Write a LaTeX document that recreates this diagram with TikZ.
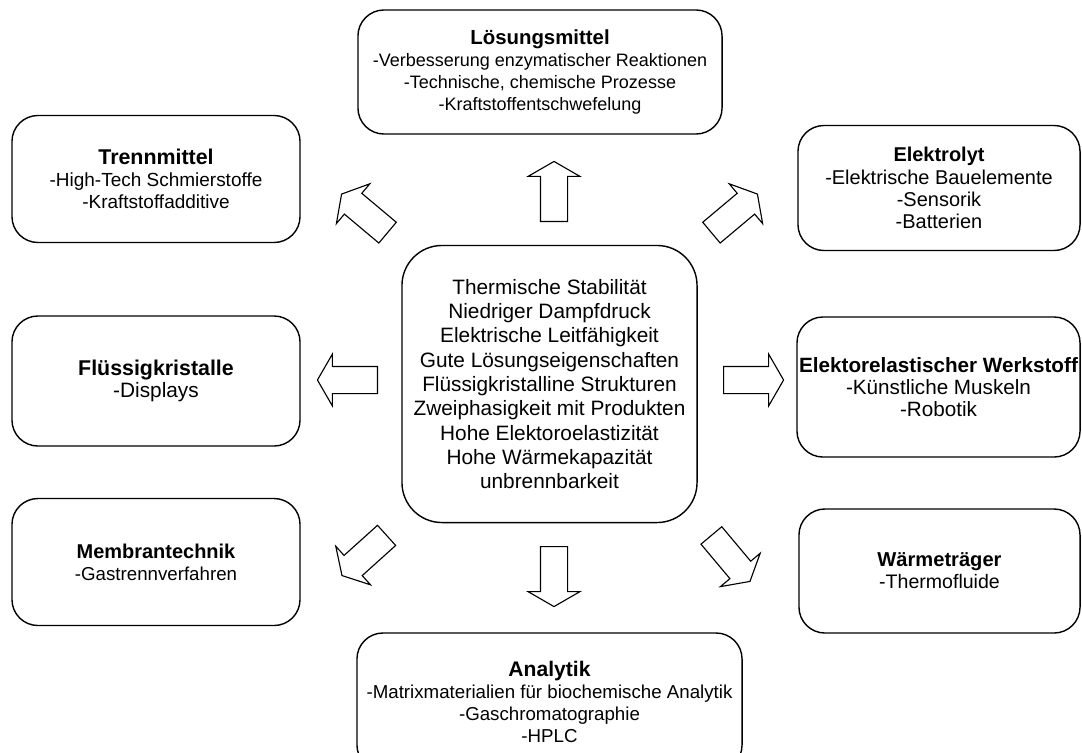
\documentclass[tikz,border=0pt]{standalone}
\usepackage{fontspec}
\setmainfont{Liberation Sans}
\usetikzlibrary{shapes.arrows}
\newcommand{\ttl}[1]{{\fontsize{\titlesize}{15.8}\selectfont\bfseries #1}}
\newcommand{\lProperties}{Thermische Stabilität\\ Niedriger Dampfdruck\\ Elektrische Leitfähigkeit\\ Gute Lösungseigenschaften\\ Flüssigkristalline Strukturen\\ Zweiphasigkeit mit Produkten\\ Hohe Elektoroelastizität\\ Hohe Wärmekapazität\\ unbrennbarkeit}
\newcommand{\lSolvent}{\ttl{Lösungsmittel}\\ -Verbesserung enzymatischer Reaktionen\\ -Technische, chemische Prozesse\\ -Kraftstoffentschwefelung}
\newcommand{\lSeparator}{\ttl{Trennmittel}\\ -High-Tech Schmierstoffe\\ -Kraftstoffadditive}
\newcommand{\lCrystal}{\ttl{Flüssigkristalle}\\ -Displays}
\newcommand{\lMembrane}{\ttl{Membrantechnik}\\ -Gastrennverfahren}
\newcommand{\lElectrolyte}{\ttl{Elektrolyt}\\ -Elektrische Bauelemente\\ -Sensorik\\ -Batterien}
\newcommand{\lElastomer}{\ttl{Elektorelastischer Werkstoff}\\ -Künstliche Muskeln\\ -Robotik}
\newcommand{\lHeat}{\ttl{Wärmeträger}\\ -Thermofluide}
\newcommand{\lAnalytics}{\ttl{Analytik}\\ -Matrixmaterialien für biochemische Analytik\\ -Gaschromatographie\\ -HPLC}

\begin{document}
\begin{tikzpicture} [
        x=0.025cm, y=-0.025cm,
        title size/.store in=\titlesize,
        text size/.style 2 args={font=\fontsize{#1}{15.8}\selectfont, title size=#2},
        use box/.style={draw, line width=1pt, rounded corners=0.65cm, align=center, inner sep=0pt},
        core box/.style={use box, rounded corners=1cm, font=\fontsize{14.8}{17.3}\selectfont},
        big arrow/.style={draw, line width=0.8pt, fill=white, single arrow, anchor=tail, minimum height=1.5cm, inner xsep=0pt, inner ysep=0.325cm, single arrow head extend=0.31cm, single arrow tip angle=120},
    ]

    \useasboundingbox (0,0) rectangle (1082,752);

    \path (549.5,384) node[core box, minimum width=7.375cm, minimum height=6.925cm] (core) {\lProperties};

    \path (540,72) node[use box, text size={12.8}{14.5}, minimum width=9.1cm, minimum height=3.1cm] (solvent) {\lSolvent};
    \path (156,179) node[use box, text size={13.5}{15.2}, minimum width=7.2cm, minimum height=3.175cm] (separator) {\lSeparator};
    \path (156,381) node[use box, text size={14.8}{15.2}, minimum width=7.2cm, minimum height=3.25cm] (crystal) {\lCrystal};
    \path (156,562) node[use box, text size={13.3}{14.2}, minimum width=7.2cm, minimum height=3.175cm] (membrane) {\lMembrane};
    \path (939,188) node[use box, text size={14.2}{14.2}, minimum width=7.05cm, minimum height=3.125cm] (electrolyte) {\lElectrolyte};
    \path (938.5,387) node[use box, text size={14.7}{14.7}, minimum width=7.075cm, minimum height=3.5cm] (elastomer) {\lElastomer};
    \path (939.5,571) node[use box, text size={13.9}{14.3}, minimum width=7.025cm, minimum height=3.1cm] (heat) {\lHeat};
    \path (549.5,702) node[use box, text size={13.3}{15}, minimum width=9.625cm, minimum height=3.45cm] (analytics) {\lAnalytics};

    % block arrows round the core
    \path (554,222) node[big arrow, rotate=90] (to solvent) {};
    \path (554,546) node[big arrow, rotate=-90] (to analytics) {};
    \path (378,380) node[big arrow, rotate=180] (to crystal) {};
    \path (723,380) node[big arrow] (to elastomer) {};
    \path (388,233) node[big arrow, rotate=140] (to separator) {};
    \path (711,233) node[big arrow, rotate=40] (to electrolyte) {};
    \path (387,535) node[big arrow, rotate=222] (to membrane) {};
    \path (711,535) node[big arrow, rotate=-50] (to heat) {};

\end{tikzpicture}
\end{document}
